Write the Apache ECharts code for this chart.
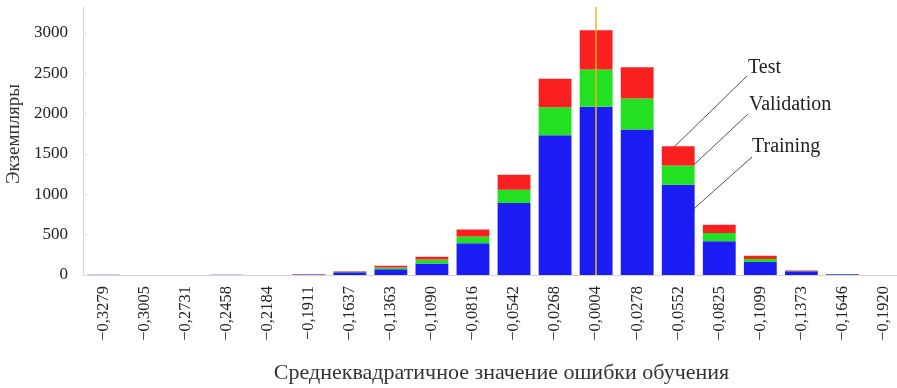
<!DOCTYPE html>
<html>
<head>
<meta charset="utf-8">
<script src="https://cdn.jsdelivr.net/npm/echarts@6/dist/echarts.min.js"></script>
<style>
  html, body { margin: 0; padding: 0; background: #fff; }
  #chart { width: 897px; height: 388px; }
</style>
</head>
<body>
<div id="chart"></div>
<script>
const categories = ['−0,3279', '−0,3005', '−0,2731', '−0,2458', '−0,2184', '−0,1911', '−0,1637', '−0,1363', '−0,1090', '−0,0816',
  '−0,0542', '−0,0268', '−0,0004', '−0,0278', '−0,0552', '−0,0825', '−0,1099', '−0,1373', '−0,1646', '−0,1920'];
const training = [2, 0, 0, 2, 0, 6, 35, 72, 143, 394, 893, 1731, 2083, 1801, 1119, 417, 161, 45, 9, 0];
const validation = [0, 0, 0, 0, 0, 1, 5, 22, 49, 83, 164, 347, 462, 384, 236, 104, 37, 6, 2, 0];
const test = [0, 0, 0, 0, 0, 1, 5, 21, 34, 87, 186, 352, 487, 389, 239, 103, 41, 6, 1, 0];
const zeroErrorBin = '−0,0004';

const font = 'Liberation Serif, Times New Roman, serif';
const chart = echarts.init(document.getElementById('chart'), null, { renderer: 'canvas' });

const barSeries = (name, data, color) => ({
  name,
  type: 'bar',
  stack: 'total',
  data,
  barCategoryGap: '20%',
  itemStyle: { color },
  emphasis: { disabled: true },
});

const option = {
  animation: false,
  backgroundColor: '#fff',
  grid: { left: 83, right: -7, top: 7, bottom: 113, containLabel: false, outerBoundsMode: 'none' },
  xAxis: {
    type: 'category',
    data: categories,
    name: 'Среднеквадратичное значение ошибки обучения',
    nameLocation: 'middle',
    nameGap: 87,
    nameTextStyle: { fontFamily: font, fontSize: 22, color: '#333', padding: [0, 0, 0, 16] },
    axisLine: { lineStyle: { color: '#d4d4d4', width: 1 } },
    axisTick: { alignWithLabel: true, inside: true, length: 4, lineStyle: { color: '#bbb' } },
    axisLabel: {
      rotate: 90,
      interval: 0,
      margin: 11,
      fontFamily: font,
      fontSize: 16.5,
      color: '#222',
    },
  },
  yAxis: {
    type: 'value',
    min: 0,
    max: 3320,
    interval: 500,
    name: 'Экземпляры',
    nameLocation: 'middle',
    nameGap: 58,
    nameTextStyle: { fontFamily: font, fontSize: 19, color: '#333', padding: [0, 0, 0, 14] },
    axisLine: { show: true, lineStyle: { color: '#d4d4d4', width: 1 } },
    axisTick: { show: true, inside: true, length: 4, lineStyle: { color: '#e0e0e0' } },
    splitLine: { show: false },
    axisLabel: {
      showMaxLabel: false,
      margin: 15,
      fontFamily: font,
      fontSize: 17,
      color: '#222',
      formatter: (v) => String(v),
    },
  },
  series: [
    barSeries('Training', training, '#1c1cf5'),
    barSeries('Validation', validation, '#22e022'),
    Object.assign(barSeries('Test', test, '#fa2020'), {
      markLine: {
        silent: true,
        symbol: 'none',
        label: { show: false },
        lineStyle: { color: '#f2b21c', width: 1.5, type: 'solid' },
        data: [{ xAxis: zeroErrorBin }],
      },
    }),
  ],
  graphic: [
    { type: 'text', left: 748, top: 58, style: { text: 'Test', font: '20px ' + font, fill: '#222' } },
    { type: 'text', left: 749, top: 95, style: { text: 'Validation', font: '20px ' + font, fill: '#222' } },
    { type: 'text', left: 752, top: 137, style: { text: 'Training', font: '20px ' + font, fill: '#222' } },
    { type: 'line', shape: { x1: 747, y1: 76, x2: 670, y2: 151 }, style: { stroke: '#555', lineWidth: 1 } },
    { type: 'line', shape: { x1: 748, y1: 114, x2: 683, y2: 175 }, style: { stroke: '#555', lineWidth: 1 } },
    { type: 'line', shape: { x1: 752, y1: 157, x2: 688, y2: 214 }, style: { stroke: '#555', lineWidth: 1 } },
  ],
};

chart.setOption(option);
</script>
</body>
</html>
